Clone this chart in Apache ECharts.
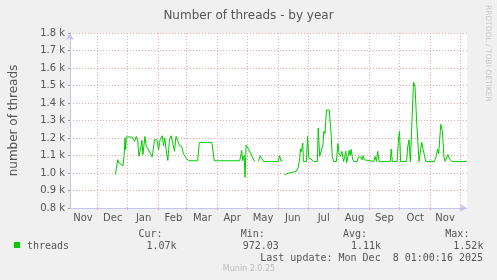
<!DOCTYPE html>
<html>
<head>
<meta charset="utf-8">
<script src="https://cdn.jsdelivr.net/npm/echarts@6/dist/echarts.min.js"></script>
<style>
  html, body { margin: 0; padding: 0; background: #f0f0f0; }
  #threadsYear { width: 497px; height: 280px; }
</style>
</head>
<body>
<div id="threadsYear"></div>
<script>
// time range of the graph (one pixel ~ one day)
var startDate = Date.UTC(2024, 10, 4);
var endDate = Date.UTC(2025, 11, 8, 1);
var DAY = 86400000;

// samples: days after startDate, and number of threads (null = no data)
var dayOffsets = [
    45.6, 48, 49.3, 51.3, 53.3, 54.3, 55.3, 56, 56.6, 58.3, 60.3, 62.6, 65, 66.6, 68, 69.3,
    70.6, 72.3, 73.3, 75.3, 76.6, 78.6, 80.6, 82.6, 85, 87.3, 89, 90.6, 92.6, 94, 95.3, 96.6,
    98.3, 100, 101.6, 103.3, 105, 106.6, 108, 110, 112.3, 114, 116.6, 119.3, 128.3, 130, 142.6,
    145, 170.6, 172.6, 173.6, 175, 176, 177, 179, 181, 183, 185.5,
    187.5,
    189.5, 191, 192.6, 194.6, 209.3, 210.6, 212, 213.5,
    214.5,
    215.5, 220, 225, 227.3, 229.3, 231, 231.6, 232.3, 234, 234.6, 237.6, 238.8, 240, 242.3, 245,
    248.6, 249.5, 251, 252.6, 254.3, 255.1, 256.3, 257.8, 260.5, 262.3, 263.6, 265, 267.8, 269.3,
    270.6, 272, 273.3, 275, 276.6, 277.3, 278, 278.6, 280.6, 281.6, 282.6, 284, 285.3, 288.6, 290,
    291.3, 292.6, 293.6, 294.6, 296, 298, 305.3, 306.6, 308, 309.3, 310.6, 322, 322.8, 324, 328.8,
    330.3, 331.2, 332.3, 338.3, 339.3, 340.8, 342.1, 344, 345.3, 346.8, 348.3, 350.1, 350.8, 353.5,
    355, 356.3, 357.5, 366.3, 368, 369.5, 370.6, 372.2, 372.7, 374.3, 375.8, 377, 378.3, 379.8,
    381.6, 383.6, 399
];
var threads = [
    990, 1076, 1057, 1050, 1042, 1095, 1200, 1133, 1206, 1200, 1206, 1204, 1181, 1209, 1190, 1095,
    1130, 1187, 1105, 1209, 1156, 1160, 1114, 1091, 1190, 1190, 1133, 1190, 1213, 1156, 1200, 1133,
    1072, 1190, 1213, 1170, 1124, 1209, 1190, 1156, 1152, 1110, 1086, 1070, 1070, 1175, 1175,
    1070, 1070, 1129, 1070, 1100, 975, 1160, 1167, 1120, 1095, 1066,
    null,
    1066, 1099, 1099, 1066, 1066, 1099, 1070, 1070,
    null,
    990, 1000, 1006, 1009, 1030, 1086, 1137, 1120, 1171, 1066, 1066, 1209, 1086, 1080, 1066,
    1066, 1257, 1095, 1095, 1162, 1238, 1225, 1360, 1360, 1238, 1095, 1066, 1066, 1169,
    1110, 1095, 1124, 1066, 1057, 1124, 1057, 1066, 1129, 1100, 1135, 1080, 1066, 1066, 1091,
    1080, 1091, 1075, 1099, 1075, 1066, 1066, 1095, 1066, 1124, 1066, 1066, 1137, 1066, 1066,
    1200, 1238, 1066, 1066, 1143, 1190, 1066, 1066, 1520, 1495, 1310, 1133, 1066, 1175,
    1133, 1100, 1066, 1066, 1095, 1137, 1110, 1238, 1278, 1238, 1095, 1066, 1075, 1105,
    1080, 1066, 1066
];

// month grid lines and mid-month labels
var monthStarts = ['2024-12-01', '2025-01-01', '2025-02-01', '2025-03-01', '2025-04-01', '2025-05-01',
    '2025-06-01', '2025-07-01', '2025-08-01', '2025-09-01', '2025-10-01', '2025-11-01', '2025-12-01'];
var monthLabelDates = ['2024-11-17', '2024-12-17', '2025-01-17', '2025-02-16', '2025-03-17', '2025-04-16',
    '2025-05-17', '2025-06-16', '2025-07-17', '2025-08-17', '2025-09-16', '2025-10-17', '2025-11-16'];
var monthNames = ['Jan', 'Feb', 'Mar', 'Apr', 'May', 'Jun', 'Jul', 'Aug', 'Sep', 'Oct', 'Nov', 'Dec'];

// legend / stats
var statNames = ['Cur:', 'Min:', 'Avg:', 'Max:'];
var statValues = ['1.07k', '972.03', '1.11k', '1.52k'];
var lastUpdate = 'Last update: Mon Dec  8 01:00:16 2025';

function toDay(s) {
    return (Date.parse(s) - startDate) / DAY;
}

var seriesData = dayOffsets.map(function (d, i) {
    return [d, threads[i]];
});

var mono = '10px "DejaVu Sans Mono"';
var graphics = [
    { type: 'rect', shape: { x: 14, y: 242, width: 6, height: 6 }, style: { fill: '#00cc00' } },
    { type: 'text', x: 27, y: 246, style: { text: 'threads', font: mono, fill: '#555', textVerticalAlign: 'middle', verticalAlign: 'middle' } },
    { type: 'text', x: 483, y: 258, style: { text: lastUpdate, font: mono, fill: '#555', textAlign: 'right', align: 'right', textVerticalAlign: 'middle', verticalAlign: 'middle' } },
    { type: 'text', x: 249, y: 269, style: { text: 'Munin 2.0.25', font: '8px "DejaVu Sans"', fill: '#bbb', textAlign: 'center', align: 'center', textVerticalAlign: 'middle', verticalAlign: 'middle' } },
    { type: 'text', x: 488, y: 5, rotation: -Math.PI / 2, style: { text: 'RRDTOOL / TOBI OETIKER', font: '7.5px "DejaVu Sans"', fill: '#c8c8c8', textAlign: 'left', align: 'left', textVerticalAlign: 'middle', verticalAlign: 'middle' } }
];
statNames.forEach(function (name, i) {
    graphics.push({ type: 'text', x: 162.5 + i * 102.3, y: 234, style: { text: name, font: mono, fill: '#555', textAlign: 'right', align: 'right', textVerticalAlign: 'middle', verticalAlign: 'middle' } });
    graphics.push({ type: 'text', x: 176.5 + i * 102.3, y: 246, style: { text: statValues[i], font: mono, fill: '#555', textAlign: 'right', align: 'right', textVerticalAlign: 'middle', verticalAlign: 'middle' } });
});

var chart = echarts.init(document.getElementById('threadsYear'));
var option = {
    backgroundColor: '#f0f0f0',
    animation: false,
    title: {
        text: 'Number of threads - by year',
        left: 'center',
        top: 5,
        textStyle: { color: '#555', fontSize: 12, fontWeight: 'normal', fontFamily: 'DejaVu Sans' }
    },
    grid: {
        left: 67, right: 30, top: 33, bottom: 72,
        show: true, backgroundColor: '#ffffff', borderWidth: 0
    },
    xAxis: {
        type: 'value',
        min: 0,
        max: (endDate - startDate) / DAY,
        axisLine: { lineStyle: { color: '#c4c4f0' }, symbol: ['none', 'arrow'], symbolSize: [6, 7] },
        axisTick: { show: true, length: 2, lineStyle: { color: '#eab0b0' }, customValues: monthStarts.map(toDay) },
        splitLine: { show: true, lineStyle: { color: '#f2a6a6', type: [1, 2], width: 1 } },
        axisLabel: {
            customValues: monthLabelDates.map(toDay),
            color: '#555', fontSize: 10, fontFamily: 'DejaVu Sans', margin: 5,
            formatter: function (v) { return monthNames[new Date(startDate + v * DAY).getUTCMonth()]; }
        }
    },
    yAxis: {
        type: 'value',
        min: 800,
        max: 1800,
        interval: 100,
        name: 'number of threads',
        nameLocation: 'middle',
        nameRotate: 90,
        nameGap: 50,
        nameTextStyle: { color: '#555', fontSize: 12, fontFamily: 'DejaVu Sans' },
        axisLine: { show: true, lineStyle: { color: '#c4c4f0' }, symbol: ['none', 'arrow'], symbolSize: [6, 7] },
        axisTick: { show: true, length: 2, lineStyle: { color: '#999' } },
        splitLine: { show: true, lineStyle: { color: '#f2a6a6', type: [1, 2], width: 1 } },
        axisLabel: {
            color: '#555', fontSize: 10, fontFamily: 'DejaVu Sans', margin: 5,
            formatter: function (v) { return (v / 1000).toFixed(1) + ' k'; }
        }
    },
    series: [
        {
            name: 'threads',
            type: 'line',
            data: seriesData,
            showSymbol: false,
            connectNulls: false,
            lineStyle: { color: '#00cc00', width: 1 },
            itemStyle: { color: '#00cc00' }
        }
    ],
    graphic: graphics
};
chart.setOption(option);
</script>
</body>
</html>
